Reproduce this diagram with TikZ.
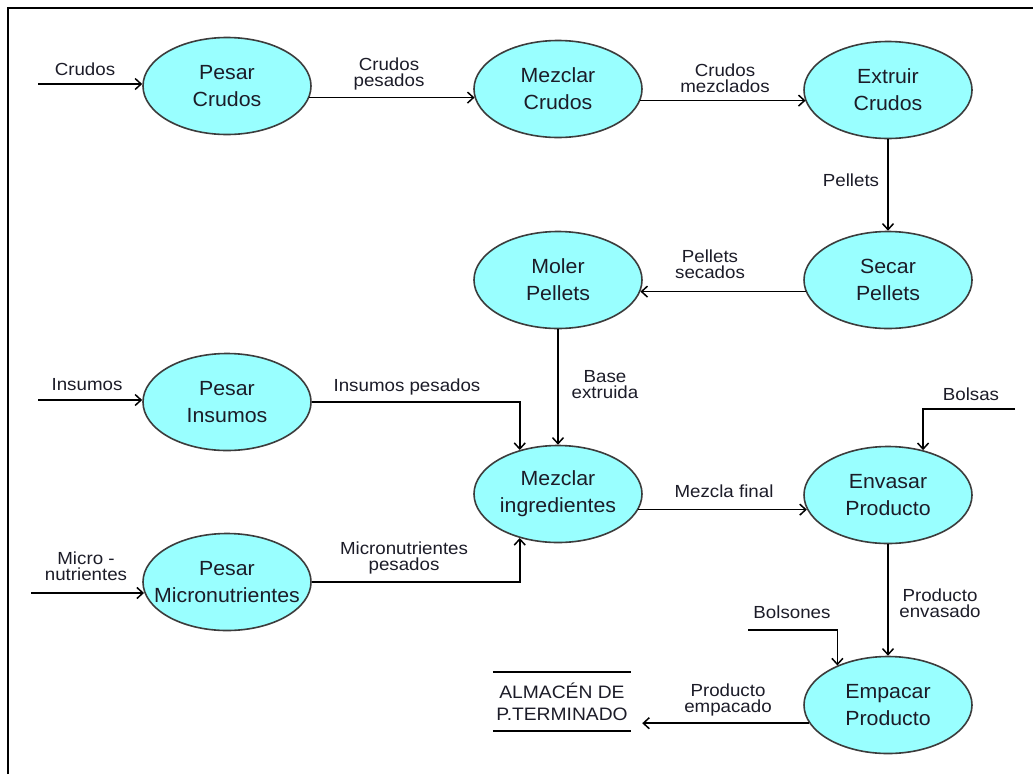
\documentclass[tikz,border=0pt]{standalone}
\usepackage{fontspec}
\setmainfont{Liberation Sans}
\newfontfamily\bubblefont[FakeStretch=1.04]{Liberation Sans}
\newfontfamily\flowfont[FakeStretch=1.07]{Liberation Sans}
\usetikzlibrary{shapes.geometric,arrows.meta}
\definecolor{procfill}{RGB}{153,255,255}
\definecolor{procline}{RGB}{60,60,60}
\definecolor{inkdark}{RGB}{28,28,40}
\begin{document}
\begin{tikzpicture}[x=1pt,y=-1pt,
  proc/.style={ellipse,draw=procline,fill=procfill,line width=1.6pt,inner sep=0pt,
               minimum width=168pt,minimum height=97pt},
  proctext/.style={align=center,font=\bubblefont\fontsize{20.5}{27}\selectfont,text=inkdark,inner sep=0pt},
  flowlabel/.style={align=center,font=\flowfont\fontsize{17.5}{16}\selectfont,text=inkdark,inner sep=0pt},
  flow/.style={line width=1.5pt,-{Straight Barb[length=6pt,width=11pt,line width=1.5pt]}},
  rule/.style={line width=1.5pt}]
\useasboundingbox (0,0) rectangle (1033,774);
\fill[white] (0,0) rectangle (1033,774);

% frame
\draw[line width=2.5pt] (8,774) -- (8,8) -- (1033,8);

% process bubbles
\node[proc] (pc) at (227,86)  {};
\node[proc] (mc) at (558,89)  {};
\node[proc] (ec) at (888,90)  {};
\node[proc] (sp) at (888,280) {};
\node[proc] (mp) at (558,280) {};
\node[proc] (pi) at (227,402) {};
\node[proc] (pm) at (227,582) {};
\node[proc] (mi) at (558,494) {};
\node[proc] (ep) at (888,495) {};
\node[proc] (ea) at (888,705) {};

\node[proctext] (tpc) at (pc) {Pesar\\Crudos};
\node[proctext] (tmc) at (mc) {Mezclar\\Crudos};
\node[proctext] (tec) at (ec) {Extruir\\Crudos};
\node[proctext] (tsp) at (sp) {Secar\\Pellets};
\node[proctext] (tmp) at (mp) {Moler\\Pellets};
\node[proctext] (tpi) at (pi) {Pesar\\Insumos};
\node[proctext] (tpm) at (pm) {Pesar\\Micronutrientes};
\node[proctext] (tmi) at (mi) {Mezclar\\ingredientes};
\node[proctext] (tep) at (ep) {Envasar\\Producto};
\node[proctext] (tea) at (ea) {Empacar\\Producto};

% store
\node[flowlabel,font=\flowfont\fontsize{18}{22}\selectfont,minimum width=138pt,minimum height=59pt]
  (al) at (562,701.5) {ALMACÉN DE\\P.TERMINADO};
\draw[rule] (al.north west) -- (al.north east);
\draw[rule] (al.south west) -- (al.south east);

% free ends of the external flows
\coordinate (c0) at (38,84);
\coordinate (i0) at (38,400);
\coordinate (m0) at (31,593);
\coordinate (b0) at (1015,409);
\coordinate (n0) at (748,630);

% flows
\draw[flow] (c0) -- (c0 -| pc.west);
\draw[flow] (pc.-8) -- (pc.-8 -| mc.186);
\draw[flow] (mc.-8) -- (mc.-8 -| ec.188);
\draw[flow] (ec.south) -- (sp.north);
\draw[flow] (sp.188) -- (sp.188 -| mp.-8);
\draw[flow] (mp.south) -- (mi.north);
\draw[flow] (i0) -- (i0 -| pi.west);
\draw[flow] (pi.east) -| (mi.131);
\draw[flow] (m0) -- (m0 -| pm.187.6);
\draw[flow] (pm.east) -| (mi.229);
\draw[flow] (mi.-11) -- (mi.-11 -| ep.190);
\draw[flow] (b0) -| (ep.52);
\draw[flow] (ep.south) -- (ea.north);
\draw[flow] (n0) -| (ea.142);
\draw[flow,shorten >=11pt] (ea.193) -- (ea.193 -| al.east);

% flow labels
\node[flowlabel] (lc)  at (85,69)    {Crudos};
\node[flowlabel] (lcp) at (389,74)   {Crudos\\pesados};
\node[flowlabel] (lcm) at (725,78)   {Crudos\\mezclados};
\node[flowlabel] (lp)  at (851,180)  {Pellets};
\node[flowlabel] (lps) at (710,264)  {Pellets\\secados};
\node[flowlabel] (li)  at (87,385)   {Insumos};
\node[flowlabel] (lip) at (407,387)  {Insumos pesados};
\node[flowlabel] (lbe) at (605,385)  {Base\\extruida};
\node[flowlabel] (lmi) at (86,566)   {Micro -\\nutrientes};
\node[flowlabel] (lmp) at (404,558)  {Micronutrientes\\pesados};
\node[flowlabel] (lmf) at (724,491)  {Mezcla final};
\node[flowlabel] (lbo) at (971,394)  {Bolsas};
\node[flowlabel] (lpe) at (940,603)  {Producto\\envasado};
\node[flowlabel] (lbn) at (792,612)  {Bolsones};
\node[flowlabel] (lpm) at (728,700)  {Producto\\empacado};
\end{tikzpicture}
\end{document}
